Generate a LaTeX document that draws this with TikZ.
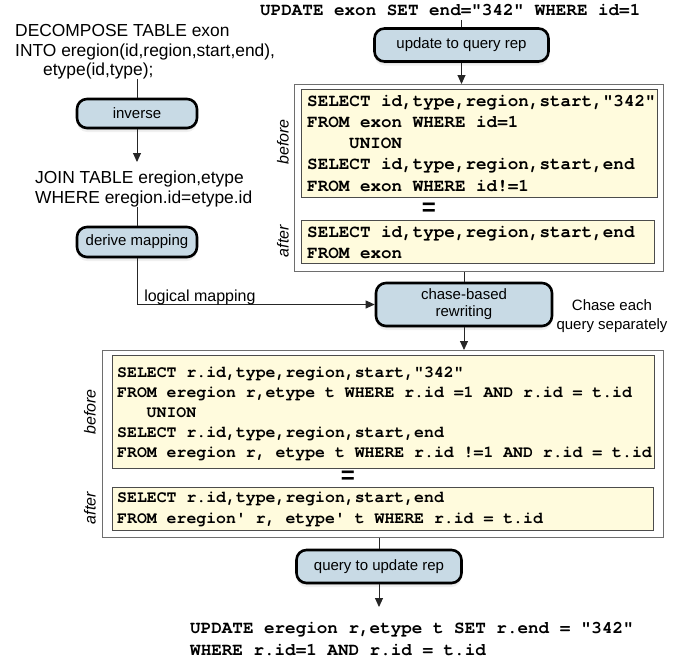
\documentclass[tikz,border=0pt]{standalone}
\usepackage{fontspec}
\setmainfont{Liberation Sans}
\newfontfamily\cour{TeX Gyre Cursor}
\usetikzlibrary{arrows.meta,shadows}
\definecolor{boxblue}{RGB}{200,218,229}
\definecolor{codeyellow}{RGB}{255,251,221}
\definecolor{framegray}{RGB}{110,110,110}
\begin{document}
\begin{tikzpicture}[x=1pt,y=-1pt,
  procbox/.style={draw=black, line width=2.6pt, rounded corners=10pt, fill=boxblue,
    font=\fontsize{15}{17}\selectfont, align=center, inner sep=0pt,
    drop shadow={shadow xshift=0pt, shadow yshift=-4pt, opacity=0.12},
    drop shadow={shadow xshift=0pt, shadow yshift=-2pt, opacity=0.18}},
  outerbox/.style={draw=framegray, line width=1.2pt, anchor=north west, inner sep=0pt, fill=white},
  codebox/.style={draw=black!70, line width=1pt, fill=codeyellow, anchor=north west, inner sep=0pt},
  codeA/.style={anchor=base west, inner sep=0pt, font=\cour\bfseries\fontsize{17.6}{21}\selectfont},
  codeB/.style={anchor=base west, inner sep=0pt, font=\cour\bfseries\fontsize{16.5}{20}\selectfont},
  codeC/.style={anchor=base west, inner sep=0pt, font=\cour\bfseries\fontsize{17.6}{21}\selectfont},
  sanstext/.style={anchor=base west, inner sep=0pt, font=\fontsize{17.4}{20}\selectfont},
  note/.style={anchor=base, inner sep=0pt, font=\fontsize{15}{17}\selectfont},
  conn/.style={line width=0.9pt, draw=black!85},
  arr/.style={conn, -{Triangle[length=9pt,width=8pt]}},
  sidelabel/.style={rotate=90, font=\itshape\fontsize{16}{18}\selectfont, inner sep=0pt},
  eqsign/.style={inner sep=0pt, font=\bfseries\fontsize{24}{24}\selectfont},
]
\useasboundingbox (0,0) rectangle (691,662);

% ---------- left column ----------
\node[sanstext] (dec1) at (15,36) {DECOMPOSE TABLE exon};
\node[sanstext] (dec2) at (15,56) {INTO eregion(id,region,start,end),};
\node[sanstext] (dec3) at (43,75) {etype(id,type);};
\node[procbox, minimum width=120pt, minimum height=29pt] (inv) at (137,113.5) {inverse};
\node[sanstext] (join1) at (35,183) {JOIN TABLE eregion,etype};
\node[sanstext] (join2) at (35,203) {WHERE eregion.id=etype.id};
\node[procbox, minimum width=120pt, minimum height=30pt] (der) at (137,242) {derive mapping};
\coordinate (invtip) at (137,162);

% ---------- right column, top ----------
\node[codeC] (u0) at (260,15.5) {UPDATE exon SET end="342" WHERE id=1};
\node[procbox, minimum width=174pt, minimum height=33pt] (upd) at (461.5,45) {update to query rep};

\node[outerbox, minimum width=369pt, minimum height=187pt] (ob1) at (294,84) {};
\node[codebox, minimum width=356pt, minimum height=108pt] (bef1) at (301,89) {};
\node[codebox, minimum width=353pt, minimum height=43pt] (aft1) at (301,220) {};
\node[codeA] (b1) at (307,106) {SELECT id,type,region,start,"342"};
\node[codeA] (b2) at (307,127) {FROM exon WHERE id=1};
\node[codeA] (b3) at (349,148) {UNION};
\node[codeA] (b4) at (307,169) {SELECT id,type,region,start,end};
\node[codeA] (b5) at (307,191) {FROM exon WHERE id!=1};
\node[eqsign] (eq1) at (429,209) {=};
\node[codeA] (a1) at (307,237) {SELECT id,type,region,start,end};
\node[codeA] (a2) at (307,258) {FROM exon};
\node[sidelabel] (lb1) at (283,142) {before};
\node[sidelabel] (la1) at (283,241) {after};

\node[procbox, minimum width=176pt, minimum height=43pt] (chase) at (464,304.5) {chase-based\\rewriting};
\node[note] (ch1) at (612,310.5) {Chase each};
\node[note] (ch2) at (612,329) {query separately};

% ---------- bottom ----------
\node[outerbox, minimum width=561pt, minimum height=187pt] (ob2) at (102,350) {};
\node[codebox, minimum width=542pt, minimum height=113pt] (bef2) at (112,355) {};
\node[codebox, minimum width=541pt, minimum height=43pt] (aft2) at (112,487) {};
\node[codeB] (c1) at (117,377) {SELECT r.id,type,region,start,"342"};
\node[codeB] (c2) at (117,397) {FROM eregion r,etype t WHERE r.id =1 AND r.id = t.id};
\node[codeB] (c3) at (146.5,417) {UNION};
\node[codeB] (c4) at (117,437) {SELECT r.id,type,region,start,end};
\node[codeB] (c5) at (117,457) {FROM eregion r, etype t WHERE r.id !=1 AND r.id = t.id};
\node[eqsign] (eq2) at (348,477) {=};
\node[codeB] (d1) at (117,502) {SELECT r.id,type,region,start,end};
\node[codeB] (d2) at (117,523) {FROM eregion' r, etype' t WHERE r.id = t.id};
\node[sidelabel] (lb2) at (90,412) {before};
\node[sidelabel] (la2) at (90,508) {after};

\node[procbox, minimum width=165pt, minimum height=33pt] (q2u) at (379,566.5) {query to update rep};
\coordinate (q2utip) at (379,607);
\node[codeC] (e1) at (190,633) {UPDATE eregion r,etype t SET r.end = "342"};
\node[codeC] (e2) at (190,655) {WHERE r.id=1 AND r.id = t.id};

% ---------- connectors ----------
\draw[conn] (inv.north |- dec3.south) -- (inv.north);
\draw[arr] (inv.south) -- (invtip);
\draw[conn] (der.north |- join2.south) -- (der.north);
\draw[arr] (der.south) |- node[pos=0.75, above=3pt, anchor=base west, inner sep=0pt, xshift=-112pt, font=\fontsize{16}{18}\selectfont] (lm) {logical mapping} (chase.west);
\draw[conn] (upd.north |- u0.south) ++(0,4) -- (upd.north);
\draw[arr] (upd.south) -- (upd.south |- ob1.north);
\draw[conn] (chase.north |- ob1.south) -- (chase.north);
\draw[arr] (chase.south) -- (chase.south |- ob2.north);
\draw[conn] (q2u.north |- ob2.south) -- (q2u.north);
\draw[arr] (q2u.south) -- (q2utip);
\end{tikzpicture}
\end{document}
